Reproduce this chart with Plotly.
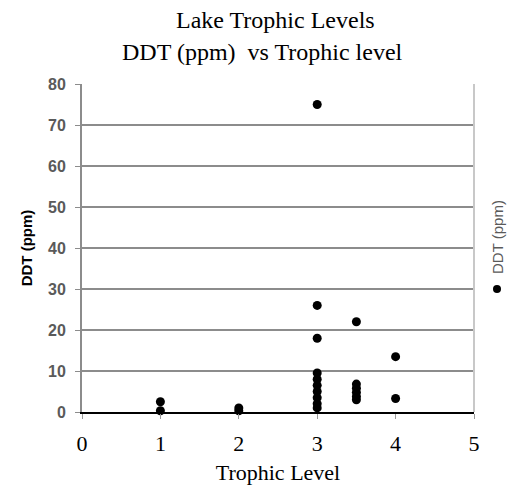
import plotly.graph_objects as go

trophic_level = [1, 1, 2, 2,
                 3, 3, 3, 3, 3, 3, 3, 3, 3, 3,
                 3.5, 3.5, 3.5, 3.5, 3.5, 3.5,
                 4, 4]
ddt_ppm = [2.5, 0.3, 1.0, 0.3,
           75, 26, 18, 9.5, 8, 6.5, 5, 3.5, 2, 1,
           22, 6.8, 5.8, 4.8, 3.8, 3.0,
           13.5, 3.3]
x_ticks = [0, 1, 2, 3, 4, 5]
y_ticks = [0, 10, 20, 30, 40, 50, 60, 70, 80]

fig = go.Figure()
fig.add_trace(go.Scatter(
    x=trophic_level, y=ddt_ppm, mode="markers", name="DDT (ppm)",
    marker=dict(color="black", size=9, symbol="circle"),
    cliponaxis=False, showlegend=False,
))

serif = "Liberation Serif, Times New Roman, serif"
sans = "Liberation Sans, Arial, sans-serif"

L, R, T, B = 82, 41, 84, 73
PW, PH = 515 - L - R, 485 - T - B


def px(xp):
    return (xp - L) / PW


def py(yp):
    return (485 - B - yp) / PH


fig.update_layout(
    width=515, height=485,
    margin=dict(l=L, r=R, t=T, b=B),
    paper_bgcolor="white", plot_bgcolor="white",
    xaxis=dict(
        range=[0, 5], tickvals=x_ticks, ticktext=[str(v) for v in x_ticks],
        showgrid=False, zeroline=False, automargin=False,
        showline=True, linecolor="black", linewidth=2,
        ticks="outside", ticklen=5, tickcolor="#999", ticklabelstandoff=6,
        tickfont=dict(family=serif, size=22, color="black"),
        title=dict(text="Trophic Level", font=dict(family=serif, size=22, color="black"), standoff=13),
    ),
    yaxis=dict(
        range=[0, 80], tickvals=y_ticks, automargin=False,
        showgrid=True, gridcolor="#8c8c8c", gridwidth=2,
        zeroline=False,
        showline=True, linecolor="#8c8c8c", linewidth=2,
        ticks="outside", ticklen=5, tickcolor="#8c8c8c", ticklabelstandoff=6,
        tickfont=dict(family=sans, size=16, color="#5a5a5a", weight="bold"),
        title=dict(text="<b>DDT (ppm)</b>", font=dict(family=sans, size=15, color="black"), standoff=12),
    ),
    showlegend=False,
)

fig.add_shape(type="line", xref="paper", yref="paper", x0=1, x1=1, y0=0, y1=1,
              line=dict(color="#c8c8c8", width=2))

fig.add_annotation(text="Lake Trophic Levels", xref="paper", yref="paper",
                   x=px(275), y=py(20), xanchor="center", yanchor="middle",
                   showarrow=False, font=dict(family=serif, size=24, color="black"))
fig.add_annotation(text="DDT (ppm)  vs Trophic level", xref="paper", yref="paper",
                   x=px(262), y=py(52), xanchor="center", yanchor="middle",
                   showarrow=False, font=dict(family=serif, size=24, color="black"))
# legend entry
fig.add_annotation(text="DDT (ppm)", xref="paper", yref="paper",
                   x=px(497), y=py(237), xanchor="center", yanchor="middle",
                   textangle=-90, showarrow=False,
                   font=dict(family=sans, size=15, color="#5a5a5a"))
fig.add_shape(type="circle", xref="paper", yref="paper",
              x0=px(493), x1=px(501), y0=py(293), y1=py(285),
              fillcolor="black", line=dict(color="black", width=0))

fig.write_html("out.html")
